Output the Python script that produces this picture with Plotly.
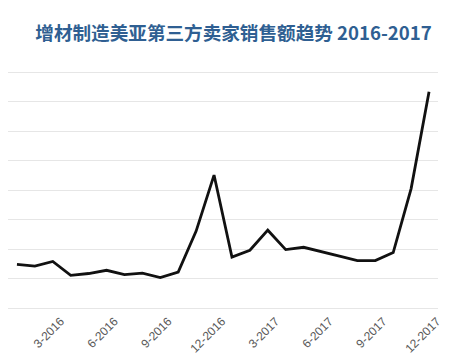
import plotly.graph_objects as go

months = ["1-2016", "2-2016", "3-2016", "4-2016", "5-2016", "6-2016",
          "7-2016", "8-2016", "9-2016", "10-2016", "11-2016", "12-2016",
          "1-2017", "2-2017", "3-2017", "4-2017", "5-2017", "6-2017",
          "7-2017", "8-2017", "9-2017", "10-2017", "11-2017", "12-2017"]
sales = [1.48, 1.42, 1.58, 1.11, 1.17, 1.28, 1.13, 1.18, 1.03, 1.22, 2.61, 4.51,
         1.73, 1.96, 2.64, 1.98, 2.06, 1.90, 1.76, 1.61, 1.61, 1.88, 4.05, 7.34]
tick_vals = ["3-2016", "6-2016", "9-2016", "12-2016", "3-2017", "6-2017", "9-2017", "12-2017"]
title_text = "增材制造美亚第三方卖家销售额趋势 2016-2017"

# page body has an 8px default margin, so the figure is drawn 8px in from the top-left
W, H = 459, 351

fig = go.Figure()
fig.add_trace(go.Scatter(
    x=months, y=sales, mode="lines",
    line=dict(color="#111111", width=2.8),
    hoverinfo="skip", showlegend=False,
))

fig.update_layout(
    width=W, height=H,
    margin=dict(l=0, r=29, t=62.8, b=51, autoexpand=False),
    paper_bgcolor="white", plot_bgcolor="white",
    title=dict(
        text=title_text,
        x=225.5 / W, xref="container", xanchor="center",
        y=1 - 25 / H, yref="container", yanchor="middle",
        font=dict(family="Noto Sans CJK SC", size=18.6, color="#2f5f92", weight="bold"),
    ),
    xaxis=dict(
        type="category", range=[-0.5, 23.5], automargin=False,
        tickmode="array", tickvals=tick_vals, ticktext=tick_vals,
        tickangle=-45, ticks="", showgrid=False, zeroline=False, showline=False,
        tickfont=dict(family="Liberation Sans", size=12, color="#595959"),
        ticklabelshift=8, ticklabelstandoff=3,
    ),
    yaxis=dict(
        range=[0, 8.04], dtick=1, showticklabels=False, ticks="", automargin=False,
        showgrid=True, gridcolor="#e6e6e6", gridwidth=1,
        zeroline=True, zerolinecolor="#e6e6e6", zerolinewidth=1, showline=False,
    ),
)

fig.write_html("out.html")
